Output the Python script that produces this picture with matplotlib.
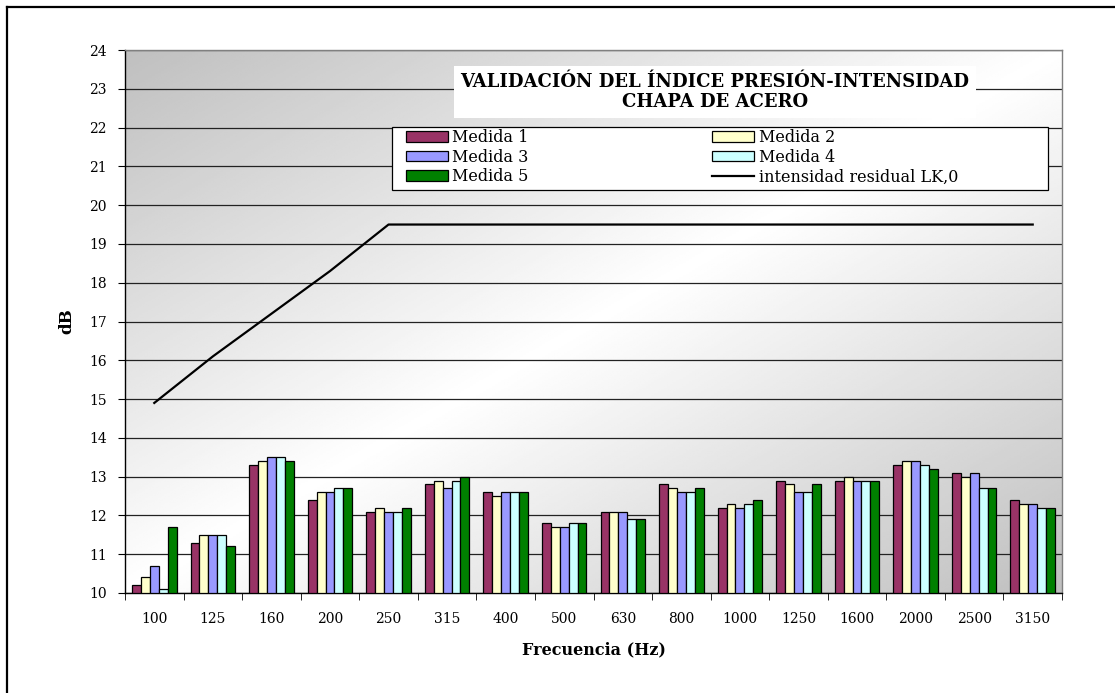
import numpy as np
import matplotlib.pyplot as plt
from matplotlib.lines import Line2D
from matplotlib.patches import Rectangle

# datos
frecuencias = ['100', '125', '160', '200', '250', '315', '400', '500', '630',
               '800', '1000', '1250', '1600', '2000', '2500', '3150']
medida1 = [10.2, 11.3, 13.3, 12.4, 12.1, 12.8, 12.6, 11.8, 12.1, 12.8, 12.2, 12.9, 12.9, 13.3, 13.1, 12.4]
medida2 = [10.4, 11.5, 13.4, 12.6, 12.2, 12.9, 12.5, 11.7, 12.1, 12.7, 12.3, 12.8, 13.0, 13.4, 13.0, 12.3]
medida3 = [10.7, 11.5, 13.5, 12.6, 12.1, 12.7, 12.6, 11.7, 12.1, 12.6, 12.2, 12.6, 12.9, 13.4, 13.1, 12.3]
medida4 = [10.1, 11.5, 13.5, 12.7, 12.1, 12.9, 12.6, 11.8, 11.9, 12.6, 12.3, 12.6, 12.9, 13.3, 12.7, 12.2]
medida5 = [11.7, 11.2, 13.4, 12.7, 12.2, 13.0, 12.6, 11.8, 11.9, 12.7, 12.4, 12.8, 12.9, 13.2, 12.7, 12.2]
residual = [14.9, 16.1, 17.2, 18.3, 19.5, 19.5, 19.5, 19.5, 19.5, 19.5, 19.5, 19.5, 19.5, 19.5, 19.5, 19.5]

series = [medida1, medida2, medida3, medida4, medida5]
nombres = ['Medida 1', 'Medida 2', 'Medida 3', 'Medida 4', 'Medida 5']
colores = ['#993366', '#FFFFCC', '#9999FF', '#CCFFFF', '#008000']

plt.rcParams['font.family'] = ['DejaVu Serif']

fig = plt.figure(figsize=(11.15, 6.93), dpi=100)
ax = fig.add_axes([125 / 1115, 1 - 593 / 693, 937 / 1115, 543 / 693])

# fondo degradado diagonal
u = np.linspace(0, 1, 300)
v = np.linspace(0, 1, 300)
U, V = np.meshgrid(u, v)
t = np.abs(U + V - 1)
grad = 1 - 0.25 * t
ax.imshow(grad, cmap='gray', vmin=0, vmax=1, extent=(0, 1, 0, 1),
          transform=ax.transAxes, aspect='auto', zorder=0)

x = np.arange(len(frecuencias))
w = 0.152
handles = []
for i, (s, c, n) in enumerate(zip(series, colores, nombres)):
    b = ax.bar(x + (i - 2) * w, np.array(s) - 10, w, bottom=10, color=c,
               edgecolor='black', linewidth=0.9, label=n, zorder=3)
    handles.append(b)
ln, = ax.plot(x, residual, color='black', linewidth=1.6, zorder=4,
              label='intensidad residual LK,0')

ax.set_xlim(-0.5, len(frecuencias) - 0.5)
ax.set_ylim(10, 24)
ax.set_yticks(range(10, 25))
ax.yaxis.grid(True, color='#222222', linewidth=0.9, zorder=1)
ax.set_axisbelow(True)

ax.set_xticks(x)
ax.set_xticklabels(frecuencias, fontsize=10)
ax.set_xticks(np.arange(-0.5, len(frecuencias)), minor=True)
ax.tick_params(axis='x', which='major', length=0, pad=14)
ax.tick_params(axis='x', which='minor', length=5, direction='out', color='black')
ax.tick_params(axis='y', length=5, direction='out', labelsize=10, pad=8)

for s in ['left', 'bottom']:
    ax.spines[s].set_color('black')
    ax.spines[s].set_linewidth(1.0)
for s in ['top', 'right']:
    ax.spines[s].set_color('#808080')
    ax.spines[s].set_linewidth(1.0)

ax.set_xlabel('Frecuencia (Hz)', fontsize=11.5, fontweight='bold', labelpad=11)
ax.set_ylabel('dB', fontsize=12, fontweight='bold', labelpad=10)

# título con caja blanca
ax.text(0.6297, 0.9227, 'VALIDACIÓN DEL ÍNDICE PRESIÓN-INTENSIDAD\nCHAPA DE ACERO',
        transform=ax.transAxes, ha='center', va='center', fontsize=13,
        fontweight='bold', linespacing=1.1, zorder=6,
        bbox=dict(facecolor='white', edgecolor='none', pad=5))

# caja de la leyenda
ax.add_patch(Rectangle((0.285, 0.742), 0.700, 0.116, transform=ax.transAxes,
                       facecolor='white', edgecolor='black', linewidth=0.9,
                       zorder=6, clip_on=False))

# leyenda: 2 columnas, orden por filas
orden = [handles[0], handles[2], handles[4], handles[1], handles[3], ln]
leg = ax.legend(orden, [h.get_label() for h in orden], ncol=2,
                loc='upper left', bbox_to_anchor=(0.300, 0.8545),
                fontsize=11.5, frameon=False, handlelength=2.6,
                handleheight=0.65, labelspacing=0.17, borderpad=0,
                handletextpad=0.3, columnspacing=11.5, borderaxespad=0)
leg.set_zorder(7)

# marco exterior
fig.add_artist(Line2D([7 / 1115, 7 / 1115], [0, 1 - 7 / 693], color='black',
                      linewidth=1.6, transform=fig.transFigure))
fig.add_artist(Line2D([7 / 1115, 1], [1 - 7 / 693, 1 - 7 / 693], color='black',
                      linewidth=1.6, transform=fig.transFigure))

fig.savefig('out.png', dpi=100)
